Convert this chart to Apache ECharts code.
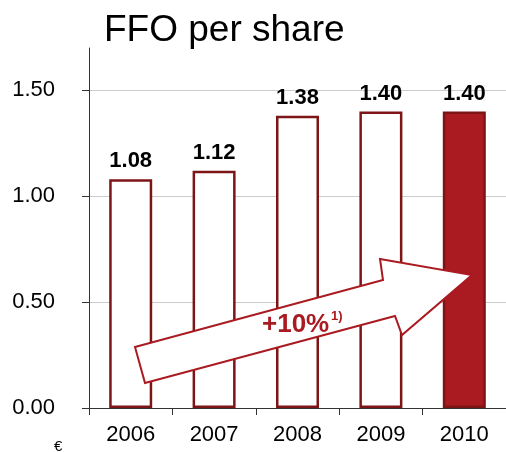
<!DOCTYPE html>
<html>
<head>
<meta charset="utf-8">
<script src="https://cdn.jsdelivr.net/npm/echarts@6/dist/echarts.min.js"></script>
<style>
  html, body { margin: 0; padding: 0; background: #fff; }
  #chart { width: 506px; height: 452px; }
</style>
</head>
<body>
<div id="chart"></div>
<script>
const years = ['2006', '2007', '2008', '2009', '2010'];
const ffo = [1.08, 1.12, 1.38, 1.40, 1.40];
const yTicks = [0, 0.5, 1.0, 1.5];

const darkRed = '#7d1517';
const red = '#aa1b21';

const chart = echarts.init(document.getElementById('chart'));

chart.setOption({
  animation: false,
  textStyle: { fontFamily: 'Liberation Sans, Arial, sans-serif' },
  title: {
    text: 'FFO per share',
    left: 99, top: 7,
    textStyle: { fontSize: 37, fontWeight: 'normal', color: '#000' }
  },
  grid: { left: 89, right: -3, top: 48, bottom: 44 },
  xAxis: {
    type: 'category',
    data: years,
    axisLine: { lineStyle: { color: '#333', width: 1 } },
    axisTick: { show: true, length: 7, lineStyle: { color: '#333' } },
    axisLabel: { color: '#000', fontSize: 22, margin: 16 }
  },
  yAxis: {
    type: 'value',
    min: 0, max: 1.7, interval: 0.5,
    axisLine: { show: true, lineStyle: { color: '#333' } },
    axisTick: { show: true, length: 7, customValues: yTicks, lineStyle: { color: '#333' } },
    axisLabel: {
      color: '#000', fontSize: 22, margin: 34, customValues: yTicks,
      formatter: v => yTicks.indexOf(v) >= 0 ? v.toFixed(2) : ''
    },
    // no grid line along the top edge
    splitLine: { lineStyle: { color: ['#cccccc', '#cccccc', '#cccccc', '#cccccc', 'rgba(0,0,0,0)'] } }
  },
  series: [{
    type: 'bar',
    barWidth: 43,
    data: ffo.map((v, i) => ({
      value: v,
      itemStyle: { color: i === ffo.length - 1 ? red : '#fff' }
    })),
    itemStyle: { borderColor: darkRed, borderWidth: 2.5 },
    label: {
      show: true, position: 'top', distance: 7,
      fontSize: 22, fontWeight: 'bold', color: '#000',
      formatter: p => p.value.toFixed(2)
    }
  }],
  graphic: [
    {
      type: 'polygon',
      z: 100,
      shape: {
        points: [[135, 347], [383, 280], [380, 259], [472, 275], [402, 335], [395, 316], [145, 383]]
      },
      style: { fill: '#fff', stroke: red, lineWidth: 2 }
    },
    {
      type: 'text',
      z: 101,
      x: 262, y: 312,
      style: {
        text: '+10%',
        fontSize: 26, fontWeight: 'bold', fill: red, fontFamily: 'Liberation Sans'
      }
    },
    {
      type: 'text',
      z: 101,
      x: 331, y: 310,
      style: {
        text: '1)',
        fontSize: 13, fontWeight: 'bold', fill: red, fontFamily: 'Liberation Sans'
      }
    },
    {
      type: 'text',
      x: 54, y: 439,
      style: { text: '€', fontSize: 15, fill: '#000', fontFamily: 'Liberation Sans' }
    }
  ]
});
</script>
</body>
</html>
